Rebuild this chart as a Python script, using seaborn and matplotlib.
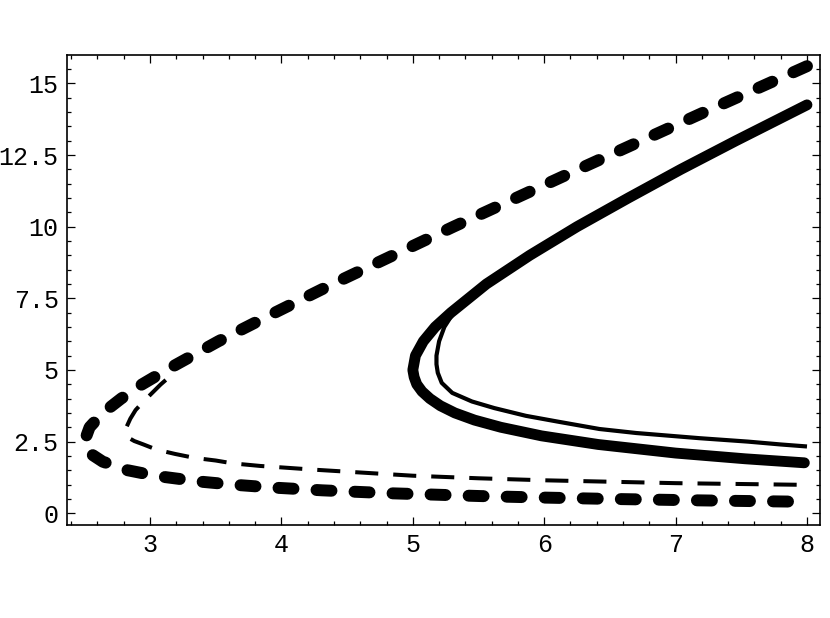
import numpy as np
import pandas as pd
import matplotlib
matplotlib.use("Agg")
import matplotlib.pyplot as plt
import seaborn as sns
from matplotlib.ticker import FixedLocator, FixedFormatter, MultipleLocator

# =========================
# Data
# =========================

# thick dashed curve
thick_dash_x = [8.00, 7.22, 6.26, 5.31, 4.85, 4.39, 3.95, 3.52, 3.125, 2.94, 2.78, 2.64,
                2.54, 2.50, 2.54, 2.64, 2.83, 3.05, 3.39, 3.625, 3.92, 4.31, 4.81, 5.51,
                5.96, 6.50, 7.17, 7.65, 8.00]
thick_dash_y = [15.6, 14.0, 12.0, 10.0, 9.0, 8.0, 7.0, 6.0, 5.0, 4.5, 4.0, 3.5,
                3.0, 2.5, 2.1, 1.8, 1.5, 1.3, 1.1, 1.0, 0.9, 0.8, 0.7, 0.6,
                0.55, 0.5, 0.45, 0.42, 0.40]

# thin dashed curve
thin_dash_x = [3.12, 3.08, 2.99, 2.93, 2.89, 2.85, 2.82, 2.815, 2.83, 2.88, 2.95, 3.05,
               3.19, 3.34, 3.50, 3.63, 3.84, 4.00, 4.25, 4.50, 4.75, 5.00, 5.50, 6.00,
               6.50, 7.00, 7.50, 8.00]
thin_dash_y = [4.65, 4.49, 4.08, 3.80, 3.60, 3.30, 3.00, 2.80, 2.65, 2.52, 2.40, 2.22,
               2.07, 1.93, 1.84, 1.74, 1.65, 1.60, 1.52, 1.45, 1.38, 1.31, 1.22, 1.15,
               1.10, 1.05, 1.02, 0.99]

# thick solid curve
thick_solid_x = [8.00, 7.46, 7.04, 6.64, 6.25, 5.89, 5.56, 5.29, 5.17, 5.08, 5.05, 5.02,
                 5.01, 5.00, 5.01, 5.03, 5.07, 5.13, 5.21, 5.32, 5.47, 5.67, 5.98, 6.41,
                 7.00, 7.53, 7.98]
thick_solid_y = [14.25, 13.0, 12.0, 11.0, 10.0, 9.0, 8.0, 7.0, 6.5, 6.0, 5.75, 5.5,
                 5.25, 5.0, 4.75, 4.5, 4.25, 4.0, 3.75, 3.5, 3.25, 3.0, 2.7, 2.4,
                 2.1, 1.9, 1.76]

# thin solid curve
thin_solid_x = [5.42, 5.31, 5.24, 5.20, 5.18, 5.18, 5.19, 5.22, 5.30, 5.45, 5.62, 5.86,
                6.10, 6.42, 6.70, 7.18, 7.55, 7.80, 8.00]
thin_solid_y = [7.5, 7.0, 6.5, 6.0, 5.5, 5.2, 4.9, 4.55, 4.2, 3.9, 3.67, 3.4,
                3.2, 2.94, 2.80, 2.62, 2.5, 2.4, 2.33]

x_ticks = [3, 4, 5, 6, 7, 8]
x_tick_labels = ["3", "4", "5", "6", "7", "8"]
y_ticks = [0, 2.5, 5, 7.5, 10, 12.5, 15]
y_tick_labels = ["0", "2.5", "5", "7.5", "10", "12.5", "15"]

# =========================
# Style
# =========================
sns.set_style("ticks")
plt.rcParams['font.family'] = ['Liberation Mono', 'DejaVu Sans Mono']
plt.rcParams['lines.scale_dashes'] = False

fig = plt.figure(figsize=(8.3, 6.18), dpi=100)
ax = fig.add_axes([67 / 830, 1 - 525 / 618, (820 - 67) / 830, (525 - 55) / 618])

# =========================
# Curves
# =========================
curves = [
    (thick_dash_x, thick_dash_y, dict(lw=8.6, linestyle=(0, (10.8, 16.6)),
                                      dash_capstyle='round')),
    (thin_dash_x, thin_dash_y, dict(lw=2.9, linestyle=(0, (16.6, 10.8)),
                                    dash_capstyle='butt')),
    (thick_solid_x, thick_solid_y, dict(lw=7.8, solid_capstyle='round')),
    (thin_solid_x, thin_solid_y, dict(lw=3.0, solid_capstyle='butt')),
]

for cx, cy, kw in curves:
    df = pd.DataFrame({'x': cx, 'y': cy})
    sns.lineplot(data=df, x='x', y='y', sort=False, estimator=None,
                 color='black', ax=ax, **kw)

# =========================
# Axes
# =========================
ax.set_xlim(2.368, 8.099)
ax.set_ylim(-0.41, 15.99)
ax.set_xlabel("")
ax.set_ylabel("")

ax.xaxis.set_major_locator(FixedLocator(x_ticks))
ax.xaxis.set_major_formatter(FixedFormatter(x_tick_labels))
ax.yaxis.set_major_locator(FixedLocator(y_ticks))
ax.yaxis.set_major_formatter(FixedFormatter(y_tick_labels))
ax.xaxis.set_minor_locator(MultipleLocator(0.2))
ax.yaxis.set_minor_locator(MultipleLocator(0.5))

ax.tick_params(which='both', direction='in', top=True, right=True,
               color='black', width=0.9)
ax.tick_params(which='major', length=5.5, labelsize=18, pad=6, labelcolor='black')
ax.tick_params(which='minor', length=3)

for s in ax.spines.values():
    s.set_visible(True)
    s.set_linewidth(1.2)
    s.set_color('black')

plt.savefig("out.png", dpi=100)
